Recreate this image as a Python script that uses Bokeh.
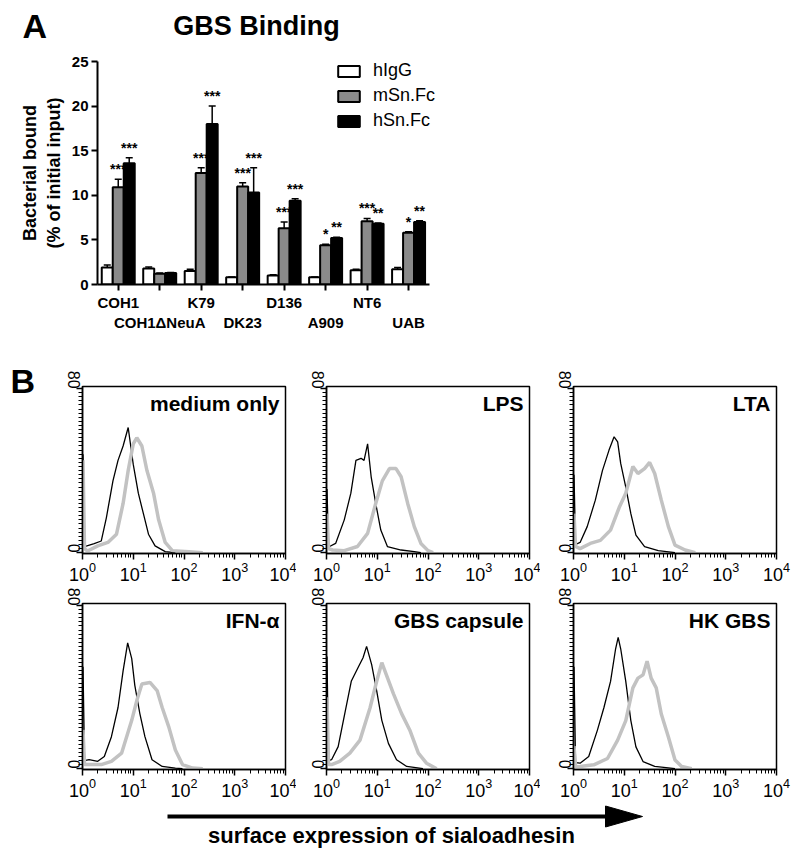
import math
from bokeh.plotting import figure
from bokeh.models import (ColumnDataSource, Legend, LegendItem, LabelSet, Label, LinearAxis,
                          Whisker, TeeHead, FixedTicker, Range1d)
from bokeh.transform import dodge
from bokeh.layouts import column, row
from bokeh.embed import file_html
from bokeh.resources import INLINE
from bokeh.core.properties import value

FONT = "Liberation Sans"

# ---------------- Panel A data ----------------
strains = ["COH1", "COH1ΔNeuA", "K79", "DK23", "D136", "A909", "NT6", "UAB"]
hIgG = [1.9, 1.8, 1.5, 0.8, 1.0, 0.8, 1.6, 1.7]
hIgG_err = [0.3, 0.15, 0.2, 0.05, 0.1, 0.05, 0.1, 0.2]
mSn = [10.9, 1.2, 12.5, 11.0, 6.3, 4.4, 7.1, 5.8]
mSn_err = [0.9, 0.1, 0.6, 0.4, 0.7, 0.1, 0.3, 0.1]
hSn = [13.6, 1.3, 18.0, 10.3, 9.4, 5.2, 6.8, 7.0]
hSn_err = [0.6, 0.05, 2.0, 2.8, 0.2, 0.1, 0.1, 0.15]
mSn_stars = ["***", "", "***", "***", "***", "*", "***", "*"]
hSn_stars = ["***", "", "***", "***", "***", "**", "**", "**"]
y_ticks_A = [0, 5, 10, 15, 20, 25]
series_names = ["hIgG", "mSn.Fc", "hSn.Fc"]

# ---------------- Panel B data (log10 intensity, % of max) ----------------
medium_black_x = [0.01, 0.04, 0.23, 0.37, 0.47, 0.6, 0.7, 0.8, 0.9, 1.0, 1.1, 1.2, 1.3, 1.43, 1.63, 1.83]
medium_black_y = [48, 3, 4.4, 5.7, 17, 35, 45, 52, 61, 43, 29, 19, 9, 3.3, 0.5, 0]
medium_gray_x = [0.01, 0.04, 0.1, 0.3, 0.5, 0.67, 0.8, 0.9, 1.0, 1.07, 1.17, 1.27, 1.4, 1.5, 1.63, 1.77, 2.1, 2.37]
medium_gray_y = [45, 2, 0.8, 3.3, 5, 9, 24, 40, 53, 56, 52, 40, 29, 16, 5, 1, 0.5, 0]

lps_black_x = [0.01, 0.04, 0.06, 0.18, 0.35, 0.48, 0.58, 0.68, 0.74, 0.81, 0.88, 0.97, 1.07, 1.2, 1.47, 1.73, 1.86]
lps_black_y = [31, 3, 3, 4.5, 16, 29, 45, 46, 45, 53, 37, 24, 11, 3, 1.3, 0.5, 0]
lps_gray_x = [0.01, 0.04, 0.12, 0.35, 0.61, 0.81, 0.97, 1.1, 1.24, 1.37, 1.47, 1.6, 1.73, 1.86, 2.0, 2.1]
lps_gray_y = [19, 2, 1.3, 1, 3, 9.4, 24, 35, 41, 41, 37, 24, 12.7, 4.5, 1, 0]

lta_black_x = [0.01, 0.04, 0.13, 0.27, 0.43, 0.57, 0.7, 0.8, 0.87, 0.93, 1.03, 1.13, 1.23, 1.4, 1.67, 2.0]
lta_black_y = [38, 4, 5, 12.7, 25.6, 40, 50, 56.5, 54, 43.5, 32, 19, 8.6, 3, 1, 0]
lta_gray_x = [0.01, 0.04, 0.13, 0.33, 0.53, 0.73, 0.9, 1.03, 1.17, 1.27, 1.4, 1.5, 1.6, 1.73, 1.87, 2.0, 2.2, 2.4]
lta_gray_y = [19, 3, 2, 4.5, 6, 11, 22, 29, 42, 38.6, 41, 44, 38.6, 25.6, 12.7, 3.7, 1.3, 0]

ifn_black_x = [0.01, 0.04, 0.13, 0.3, 0.43, 0.57, 0.7, 0.8, 0.89, 0.97, 1.03, 1.13, 1.23, 1.37, 1.57, 1.83, 1.97]
ifn_black_y = [50, 4, 4.4, 3.6, 6, 15.7, 30, 48, 61.7, 54, 41, 27, 15.7, 4.4, 1.1, 0.3, 0]
ifn_gray_x = [0.01, 0.04, 0.1, 0.37, 0.57, 0.77, 0.97, 1.07, 1.17, 1.33, 1.47, 1.57, 1.7, 1.83, 1.97, 2.17, 2.37]
ifn_gray_y = [19, 2, 2, 2, 3.6, 7.6, 23.7, 33.4, 41.5, 42.3, 38.3, 30, 20.5, 9.2, 2, 0.3, 0]

gbs_black_x = [0.01, 0.04, 0.1, 0.23, 0.36, 0.49, 0.63, 0.72, 0.79, 0.89, 0.99, 1.09, 1.22, 1.38, 1.58, 1.9]
gbs_black_y = [55, 4, 4.4, 10.8, 27, 43, 50, 54.4, 60, 51, 38, 23.7, 12.4, 4.4, 1.1, 0]
gbs_gray_x = [0.01, 0.04, 0.1, 0.26, 0.46, 0.66, 0.86, 0.99, 1.09, 1.18, 1.32, 1.48, 1.64, 1.81, 1.97, 2.17]
gbs_gray_y = [35, 2, 2, 3.6, 7.6, 14, 30, 43, 52, 46, 36.7, 27, 19, 7.6, 2.7, 0]

hk_black_x = [0.01, 0.04, 0.13, 0.3, 0.47, 0.6, 0.73, 0.83, 0.88, 0.93, 1.03, 1.13, 1.23, 1.37, 1.6, 2.0]
hk_black_y = [50, 3, 2.7, 6, 18.8, 30, 42.8, 58.8, 64.4, 58.8, 42.8, 23.6, 10.7, 3.5, 1.1, 0]
hk_gray_x = [0.01, 0.04, 0.13, 0.4, 0.67, 0.87, 1.03, 1.17, 1.27, 1.37, 1.45, 1.53, 1.63, 1.73, 1.87, 2.0, 2.13, 2.33]
hk_gray_y = [11, 1, 1.1, 1.9, 5, 14, 23.6, 39.6, 44.4, 46, 52.7, 44.4, 39.6, 26.8, 15.5, 4.3, 1.1, 0]

panel_titles = ["medium only", "LPS", "LTA", "IFN-α", "GBS capsule", "HK GBS"]
x_major = [1, 10, 100, 1000, 10000]
x_minor = [k * 10 ** d for d in range(4) for k in range(2, 10)]
y_major_B = [0, 80]
y_minor_B = list(range(0, 81, 2))

COMMON = dict(output_backend="svg", toolbar_location=None, frame_align=False)


def blank(w, h):
    f = figure(width=w, height=h, x_range=Range1d(0, w), y_range=Range1d(h, 0), min_border=0,
               x_axis_location=None, y_axis_location=None, **COMMON)
    f.outline_line_color = None
    f.xgrid.visible = False
    f.ygrid.visible = False
    return f


def caption(f, x, y, txt, size, align="left"):
    f.text(x=[x], y=[y], text=[txt], text_align=align, text_baseline="middle",
           text_font=value(FONT), text_font_size=size, text_font_style="bold", text_color="black")


# ---------------- Header (panel letter + title) ----------------
head = blank(800, 45)
caption(head, 22, 25, "A", "34px")
caption(head, 256, 25, "GBS Binding", "27px", "center")

# ---------------- Panel A ----------------
n = len(strains)
pos = [i + 0.5 for i in range(n)]
pa = figure(x_range=Range1d(0, 8.8), y_range=Range1d(0, 25), width=800, height=295,
            min_border_left=97, min_border_right=338, min_border_top=16, min_border_bottom=56,
            **COMMON)
pa.outline_line_color = None
pa.xgrid.visible = False
pa.ygrid.visible = False

src = ColumnDataSource(dict(
    pos=pos, hIgG=hIgG, mSn=mSn, hSn=hSn,
    hIgG_up=[v + e for v, e in zip(hIgG, hIgG_err)],
    mSn_up=[v + e for v, e in zip(mSn, mSn_err)],
    hSn_up=[v + e for v, e in zip(hSn, hSn_err)],
    mSn_stars=mSn_stars, hSn_stars=hSn_stars,
))
BW = 0.265
specs = [("hIgG", -BW, "white"), ("mSn", 0.0, "#8a8a8a"), ("hSn", BW, "black")]
renderers = []
for key, off, col in specs:
    r = pa.vbar(x=dodge("pos", off), top=key, width=BW, source=src,
                fill_color=col, line_color="black", line_width=2)
    renderers.append(r)
    pa.add_layout(Whisker(base=dodge("pos", off), lower=key, upper=key + "_up",
                          source=src, dimension="height", line_color="black", line_width=1.5,
                          lower_head=None,
                          upper_head=TeeHead(size=7, line_width=1.5, line_color="black")))

for key, off in [("mSn", 0.0), ("hSn", BW)]:
    pa.add_layout(LabelSet(x=dodge("pos", off), y=key + "_up", text=key + "_stars",
                           source=src, text_align="center", text_baseline="bottom", y_offset=2,
                           text_font=value(FONT), text_font_size="14px", text_font_style="bold",
                           text_color="black"))

# x axis: ticks at every strain, labels staggered on two rows
xa = pa.xaxis[0]
xa.ticker = FixedTicker(ticks=pos)
xa.bounds = (0, n)
xa.major_label_overrides = {p: (s if i % 2 == 0 else "") for i, (p, s) in enumerate(zip(pos, strains))}
xa2 = LinearAxis(ticker=FixedTicker(ticks=pos), bounds=(0, n),
                 major_label_overrides={p: (s if i % 2 == 1 else "") for i, (p, s) in enumerate(zip(pos, strains))})
pa.add_layout(xa2, "below")
for ax in (xa, xa2):
    ax.minor_tick_line_color = None
    ax.major_label_text_font = FONT
    ax.major_label_text_font_size = "15px"
    ax.major_label_text_font_style = "bold"
    ax.major_label_text_color = "black"
xa.axis_line_width = 2
xa.major_tick_line_width = 2
xa.major_tick_out = 6
xa.major_tick_in = 0
xa.major_label_standoff = 3
xa2.axis_line_color = None
xa2.major_tick_line_color = None
xa2.major_tick_out = 0
xa2.major_tick_in = 0
xa2.major_label_standoff = 0

ya = pa.yaxis[0]
ya.ticker = FixedTicker(ticks=y_ticks_A)
ya.minor_tick_line_color = None
ya.axis_line_width = 2
ya.major_tick_line_width = 2
ya.major_tick_out = 6
ya.major_tick_in = 0
ya.major_label_text_font = FONT
ya.major_label_text_font_size = "15px"
ya.major_label_text_font_style = "bold"
ya.major_label_text_color = "black"
ya.major_label_standoff = 3
ya.axis_label = "Bacterial bound\n(% of initial input)"
ya.axis_label_text_font = FONT
ya.axis_label_text_font_size = "18px"
ya.axis_label_text_font_style = "bold"
ya.axis_label_text_color = "black"
ya.axis_label_standoff = 5

legend = Legend(items=[LegendItem(label=nm, renderers=[r]) for nm, r in zip(series_names, renderers)],
                location=(238, 153), padding=0, margin=0, spacing=4, glyph_width=27, glyph_height=14,
                label_height=21, label_standoff=11, border_line_color=None, background_fill_alpha=0,
                label_text_font=FONT, label_text_font_size="18px", label_text_color="black")
pa.add_layout(legend)


# ---------------- Panel B ----------------
def hist(title, bx, by, gx, gy, w, h, left, right, top, bottom):
    p = figure(x_axis_type="log", x_range=Range1d(1, 1e4), y_range=Range1d(-0.4, 81),
               width=w, height=h, min_border_left=left, min_border_right=right,
               min_border_top=top, min_border_bottom=bottom, **COMMON)
    p.xgrid.visible = False
    p.ygrid.visible = False
    p.outline_line_color = "black"
    p.outline_line_width = 1.5
    p.line([10 ** v for v in bx], by, color="black", line_width=1.3)
    p.line([10 ** v for v in gx], gy, color="#c2c2c2", line_width=3.5)
    p.xaxis.ticker = FixedTicker(ticks=x_major, minor_ticks=x_minor)
    p.yaxis.ticker = FixedTicker(ticks=y_major_B, minor_ticks=y_minor_B)
    for ax in (p.xaxis[0], p.yaxis[0]):
        ax.axis_line_width = 1.5
        ax.major_tick_line_width = 1.5
        ax.minor_tick_line_width = 1
        ax.major_tick_in = 0
        ax.minor_tick_in = 0
        ax.major_tick_out = 6
        ax.minor_tick_out = 4
        ax.major_label_text_font = FONT
        ax.major_label_text_color = "black"
    p.xaxis.major_label_text_font_size = "18px"
    p.xaxis.major_label_standoff = 2
    p.yaxis.major_label_text_font_size = "16px"
    p.yaxis.major_label_orientation = -math.pi / 2
    p.yaxis.major_label_standoff = 3
    p.add_layout(Label(x=1e4, y=81, x_offset=-6, y_offset=-5, text=title, text_align="right",
                       text_baseline="top", text_font=FONT, text_font_size="21px",
                       text_font_style="bold", text_color="black"))
    return p


bfig = blank(45, 245)
caption(bfig, 10, 40, "B", "34px")

h1 = hist(panel_titles[0], medium_black_x, medium_black_y, medium_gray_x, medium_gray_y, 251, 245, 37, 11, 46, 32)
h2 = hist(panel_titles[1], lps_black_x, lps_black_y, lps_gray_x, lps_gray_y, 244, 245, 30, 11, 46, 32)
h3 = hist(panel_titles[2], lta_black_x, lta_black_y, lta_gray_x, lta_gray_y, 260, 245, 33, 24, 46, 32)
h4 = hist(panel_titles[3], ifn_black_x, ifn_black_y, ifn_gray_x, ifn_gray_y, 296, 218, 82, 11, 18, 34)
h5 = hist(panel_titles[4], gbs_black_x, gbs_black_y, gbs_gray_x, gbs_gray_y, 244, 218, 30, 11, 18, 34)
h6 = hist(panel_titles[5], hk_black_x, hk_black_y, hk_gray_x, hk_gray_y, 260, 218, 33, 24, 18, 34)

# ---------------- Arrow + axis caption ----------------
pc = blank(800, 52)
pc.line([167, 608], [13, 13], line_width=4, color="black")
pc.patch([605, 642, 605], [2.5, 13, 23.5], color="black")
caption(pc, 391, 32, "surface expression of sialoadhesin", "22px", "center")

layout = column(head, pa, row(bfig, h1, h2, h3), row(h4, h5, h6), pc)
open("out.html", "w").write(file_html(layout, INLINE))
